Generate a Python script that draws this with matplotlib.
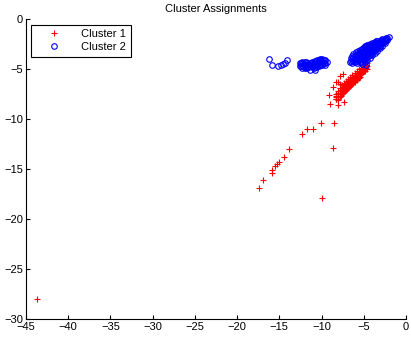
import matplotlib
matplotlib.use("Agg")
import matplotlib.pyplot as plt

# Cluster 1 (red +): dense band, scattered tail and one outlier
c1_band = [
    (-4.6, -4.4), (-4.6, -4.7), (-4.6, -5.0),
    (-4.75, -4.65), (-4.75, -4.95),
    (-4.85, -4.6), (-4.85, -4.9), (-4.85, -5.2),
    (-5.0, -4.85), (-5.0, -5.15),
    (-5.1, -4.7), (-5.1, -5.0), (-5.1, -5.3),
    (-5.25, -5.05), (-5.25, -5.35),
    (-5.35, -4.9), (-5.35, -5.2), (-5.35, -5.5),
    (-5.5, -5.15), (-5.5, -5.45), (-5.5, -5.75),
    (-5.6, -5.0), (-5.6, -5.3), (-5.6, -5.6), (-5.6, -5.9),
    (-5.75, -5.35), (-5.75, -5.65), (-5.75, -5.95),
    (-5.85, -5.2), (-5.85, -5.5), (-5.85, -5.8), (-5.85, -6.1),
    (-6.0, -5.55), (-6.0, -5.85), (-6.0, -6.15),
    (-6.1, -5.4), (-6.1, -5.7), (-6.1, -6.0), (-6.1, -6.3),
    (-6.25, -5.75), (-6.25, -6.05), (-6.25, -6.35),
    (-6.35, -5.6), (-6.35, -5.9), (-6.35, -6.2), (-6.35, -6.5),
    (-6.5, -5.95), (-6.5, -6.25), (-6.5, -6.55),
    (-6.6, -5.8), (-6.6, -6.1), (-6.6, -6.4), (-6.6, -6.7),
    (-6.75, -6.15), (-6.75, -6.45), (-6.75, -6.75),
    (-6.85, -6.0), (-6.85, -6.3), (-6.85, -6.6), (-6.85, -6.9),
    (-7.0, -6.35), (-7.0, -6.65), (-7.0, -6.95),
    (-7.1, -6.2), (-7.1, -6.5), (-7.1, -6.8), (-7.1, -7.1),
    (-7.25, -6.55), (-7.25, -6.85), (-7.25, -7.15),
    (-7.35, -6.4), (-7.35, -6.7), (-7.35, -7.0), (-7.35, -7.3),
    (-7.5, -6.75), (-7.5, -7.05), (-7.5, -7.35),
    (-7.6, -6.6), (-7.6, -6.9), (-7.6, -7.2), (-7.6, -7.5),
    (-7.75, -7.05), (-7.75, -7.35), (-7.75, -7.65),
    (-7.85, -6.9), (-7.85, -7.2), (-7.85, -7.5), (-7.85, -7.8),
    (-8.0, -7.35), (-8.0, -7.65), (-8.0, -7.95),
    (-8.1, -7.2), (-8.1, -7.5), (-8.1, -7.8), (-8.1, -8.1),
    (-8.25, -7.65), (-8.25, -7.95),
    (-8.35, -7.5), (-8.35, -7.8), (-8.35, -8.0),
]
c1_scatter = [
    (-7.5, -5.5), (-7.8, -5.7), (-8.0, -6.3), (-8.3, -6.3), (-8.6, -6.8),
    (-7.8, -6.5), (-9.1, -7.6), (-9.0, -8.5), (-8.0, -8.6), (-7.4, -8.3),
    (-10.1, -10.4), (-8.5, -10.4), (-11.7, -11.0), (-11.0, -11.0),
    (-12.3, -11.5), (-8.6, -12.9), (-13.9, -13.0), (-14.5, -13.8),
    (-15.0, -14.3), (-15.3, -14.5), (-15.5, -14.7), (-15.9, -15.1),
    (-15.9, -15.4), (-16.9, -16.1), (-17.4, -16.9), (-10.0, -17.9),
    (-43.7, -28.0),
]

# Cluster 2 (blue o): main blob, blob near -10, small group near -15
c2_main = [
    (-6.6, -4.3),
    (-6.5, -4.2), (-6.5, -3.9),
    (-6.4, -4.4), (-6.4, -4.0), (-6.4, -3.7),
    (-6.25, -4.2), (-6.25, -3.85), (-6.25, -3.55),
    (-6.1, -4.3), (-6.1, -4.0), (-6.1, -3.7),
    (-5.95, -4.25), (-5.95, -3.95), (-5.95, -3.65), (-5.95, -3.35),
    (-5.8, -4.4), (-5.8, -4.1), (-5.8, -3.8), (-5.8, -3.5),
    (-5.65, -4.15), (-5.65, -3.85), (-5.65, -3.55), (-5.65, -3.25),
    (-5.5, -4.3), (-5.5, -4.0), (-5.5, -3.7), (-5.5, -3.4), (-5.5, -3.1),
    (-5.35, -4.35), (-5.35, -4.05), (-5.35, -3.75), (-5.35, -3.45), (-5.35, -3.15),
    (-5.2, -4.5), (-5.2, -4.2), (-5.2, -3.9), (-5.2, -3.6), (-5.2, -3.3), (-5.2, -3.0),
    (-5.05, -4.15), (-5.05, -3.85), (-5.05, -3.55), (-5.05, -3.25), (-5.05, -2.95),
    (-4.9, -4.3), (-4.9, -4.0), (-4.9, -3.7), (-4.9, -3.4), (-4.9, -3.1), (-4.9, -2.8),
    (-4.75, -3.95), (-4.75, -3.65), (-4.75, -3.35), (-4.75, -3.05), (-4.75, -2.75),
    (-4.6, -4.1), (-4.6, -3.8), (-4.6, -3.5), (-4.6, -3.2), (-4.6, -2.9), (-4.6, -2.6),
    (-4.45, -3.75), (-4.45, -3.45), (-4.45, -3.15), (-4.45, -2.85), (-4.45, -2.6),
    (-4.3, -3.9), (-4.3, -3.6), (-4.3, -3.3), (-4.3, -3.0), (-4.3, -2.7), (-4.3, -2.5),
    (-4.15, -3.5), (-4.15, -3.2), (-4.15, -2.9), (-4.15, -2.6),
    (-4.0, -3.6), (-4.0, -3.3), (-4.0, -3.0), (-4.0, -2.7), (-4.0, -2.4),
    (-3.85, -3.25), (-3.85, -2.95), (-3.85, -2.65), (-3.85, -2.4),
    (-3.7, -3.4), (-3.7, -3.1), (-3.7, -2.8), (-3.7, -2.5), (-3.7, -2.3),
    (-3.55, -3.0), (-3.55, -2.7), (-3.55, -2.45), (-3.55, -2.25),
    (-3.4, -3.2), (-3.4, -2.9), (-3.4, -2.6), (-3.4, -2.4), (-3.4, -2.2),
    (-3.25, -2.8), (-3.25, -2.55), (-3.25, -2.3),
    (-3.1, -2.9), (-3.1, -2.7), (-3.1, -2.4), (-3.1, -2.2),
    (-2.95, -2.55), (-2.95, -2.3), (-2.95, -2.1),
    (-2.8, -2.7), (-2.8, -2.4), (-2.8, -2.2), (-2.8, -2.0),
    (-2.65, -2.3), (-2.65, -2.1),
    (-2.5, -2.4), (-2.5, -2.2), (-2.5, -2.0),
    (-2.35, -2.15), (-2.35, -1.95),
    (-2.2, -2.1), (-2.2, -1.9), (-2.0, -1.8),
    (-4.85, -2.7), (-4.8, -4.6),
]
c2_mid = [
    (-12.6, -4.4), (-12.6, -4.7),
    (-12.45, -4.45), (-12.45, -4.75),
    (-12.3, -4.3), (-12.3, -4.6), (-12.3, -4.9),
    (-12.15, -4.45), (-12.15, -4.75),
    (-12.0, -4.3), (-12.0, -4.6), (-12.0, -4.9),
    (-11.85, -4.35), (-11.85, -4.65), (-11.85, -4.85),
    (-11.7, -4.4), (-11.7, -4.7), (-11.7, -4.9),
    (-11.55, -4.55), (-11.55, -4.85),
    (-11.4, -4.4), (-11.4, -4.7), (-11.4, -5.1),
    (-11.25, -4.45), (-11.25, -4.75),
    (-11.1, -4.3), (-11.1, -4.6), (-11.1, -4.8),
    (-10.95, -4.35), (-10.95, -4.65), (-10.95, -4.95),
    (-10.8, -4.2), (-10.8, -4.5), (-10.8, -4.8), (-10.8, -5.1),
    (-10.65, -4.25), (-10.65, -4.55), (-10.65, -4.85),
    (-10.5, -4.1), (-10.5, -4.4), (-10.5, -4.7),
    (-10.35, -4.15), (-10.35, -4.45), (-10.35, -4.7),
    (-10.2, -4.0), (-10.2, -4.3), (-10.2, -4.6),
    (-10.05, -4.15), (-10.05, -4.45),
    (-9.9, -4.0), (-9.9, -4.3), (-9.9, -4.6),
    (-9.75, -4.15), (-9.75, -4.45),
    (-9.6, -4.1), (-9.6, -4.4), (-9.6, -4.6),
    (-9.4, -4.3),
]
c2_small = [
    (-16.2, -4.0), (-15.9, -4.6), (-15.1, -4.7), (-14.8, -4.6),
    (-14.6, -4.5), (-14.3, -4.4), (-14.1, -4.1),
]

x_ticks = [-45, -40, -35, -30, -25, -20, -15, -10, -5, 0]
y_ticks = [0, -5, -10, -15, -20, -25, -30]

plt.rcParams['font.family'] = ['Liberation Sans', 'DejaVu Sans']
plt.rcParams['font.size'] = 8

c1 = c1_band + c1_scatter
c2 = c2_main + c2_mid + c2_small

fig = plt.figure(figsize=(4.11, 3.45), dpi=100)
ax = fig.add_axes([0.063, 0.075, 0.925, 0.870])

ax.plot([p[0] for p in c1], [p[1] for p in c1], linestyle='none', marker='+',
        color='#ff0000', ms=4.5, mew=0.8, label='Cluster 1')
ax.plot([p[0] for p in c2], [p[1] for p in c2], linestyle='none', marker='o',
        mfc='none', mec='#0000ff', ms=4, mew=0.8, label='Cluster 2')

ax.set_xlim(-45, 0)
ax.set_ylim(-30, 0)
ax.set_xticks(x_ticks)
ax.set_yticks(y_ticks)
ax.spines['top'].set_visible(False)
ax.spines['right'].set_visible(False)
ax.tick_params(direction='in', length=3, width=0.8, labelsize=8, pad=2)
ax.set_title('Cluster Assignments', fontsize=8, pad=5)

leg = ax.legend(loc='upper left', fancybox=False, frameon=True, edgecolor='black',
                framealpha=1, fontsize=8, handlelength=3.2, borderaxespad=0.5,
                labelspacing=0.3, handletextpad=0.9)
leg.get_frame().set_linewidth(0.8)

fig.savefig('out.png', dpi=100)
